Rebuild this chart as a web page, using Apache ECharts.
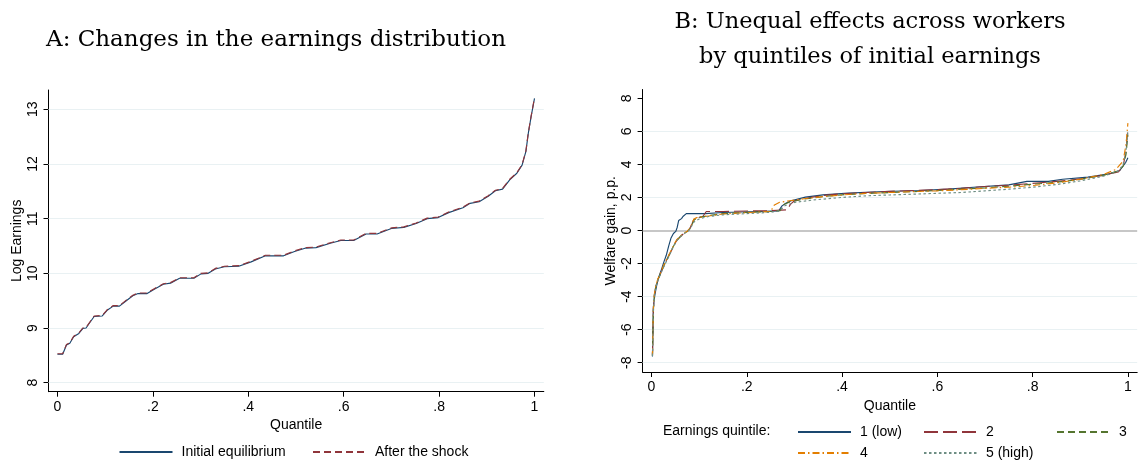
<!DOCTYPE html>
<html>
<head>
<meta charset="utf-8">
<script src="https://cdn.jsdelivr.net/npm/echarts@6/dist/echarts.min.js"></script>
<style>
  html, body { margin: 0; padding: 0; background: #fff; }
  #chart { width: 1138px; height: 462px; }
</style>
</head>
<body>
<div id="chart"></div>
<script>
// ---- Panel A: quantiles of log earnings, before and after the shock ----
const quantileA = [0, 0.011, 0.019, 0.026, 0.034, 0.045, 0.053, 0.060, 0.068, 0.077,
  0.094, 0.105, 0.117, 0.130, 0.143, 0.158, 0.169, 0.188, 0.203, 0.222,
  0.237, 0.256, 0.286, 0.301, 0.316, 0.331, 0.350, 0.380, 0.406, 0.436,
  0.474, 0.497, 0.519, 0.542, 0.572, 0.594, 0.621, 0.647, 0.670, 0.700,
  0.726, 0.752, 0.775, 0.798, 0.820, 0.850, 0.865, 0.884, 0.903, 0.918,
  0.933, 0.948, 0.963, 0.974, 0.982, 0.987, 0.993, 1.000];
const logEarnInitial = [8.52, 8.52, 8.69, 8.72, 8.84, 8.90, 8.99, 9.00, 9.10, 9.21,
  9.22, 9.33, 9.40, 9.40, 9.49, 9.59, 9.63, 9.63, 9.71, 9.80,
  9.82, 9.91, 9.91, 9.99, 10.00, 10.08, 10.12, 10.13, 10.21, 10.32,
  10.32, 10.40, 10.46, 10.47, 10.55, 10.60, 10.60, 10.72, 10.72, 10.82,
  10.84, 10.91, 11.00, 11.02, 11.11, 11.20, 11.28, 11.31, 11.41, 11.51,
  11.54, 11.71, 11.83, 11.98, 12.23, 12.56, 12.87, 13.20];
const logEarnShock = [8.53, 8.53, 8.70, 8.73, 8.85, 8.91, 9.00, 9.01, 9.11, 9.22,
  9.23, 9.34, 9.41, 9.41, 9.50, 9.60, 9.64, 9.64, 9.72, 9.81,
  9.83, 9.92, 9.92, 10.00, 10.01, 10.09, 10.13, 10.14, 10.22, 10.33,
  10.33, 10.41, 10.47, 10.48, 10.56, 10.61, 10.61, 10.73, 10.73, 10.83,
  10.85, 10.92, 11.01, 11.03, 11.12, 11.21, 11.29, 11.32, 11.42, 11.52,
  11.55, 11.72, 11.84, 11.99, 12.24, 12.57, 12.88, 13.21];

// ---- Panel B: welfare gain (p.p.) by quantile, per initial-earnings quintile ----
const q1 = [0.002, 0.003, 0.004, 0.007, 0.011, 0.016, 0.021, 0.026, 0.031, 0.036,
  0.041, 0.046, 0.051, 0.054, 0.057, 0.063, 0.066, 0.073, 0.113, 0.150,
  0.225, 0.267, 0.274, 0.282, 0.293, 0.323, 0.360, 0.413, 0.488, 0.563,
  0.623, 0.676, 0.750, 0.788, 0.833, 0.863, 0.916, 0.961, 0.983, 0.995, 1.000];
const gain1 = [-7.63, -6.0, -4.6, -3.9, -3.3, -2.75, -2.35, -1.9, -1.5, -0.95,
  -0.45, -0.18, -0.05, 0.2, 0.6, 0.72, 0.85, 1.02, 1.02, 1.09,
  1.15, 1.19, 1.49, 1.65, 1.8, 2.02, 2.16, 2.26, 2.36, 2.42,
  2.5, 2.62, 2.76, 2.97, 2.97, 3.1, 3.23, 3.43, 3.63, 4.1, 4.4];

const q2 = [0.002, 0.003, 0.004, 0.006, 0.009, 0.013, 0.019, 0.024, 0.029, 0.036,
  0.043, 0.048, 0.053, 0.060, 0.067, 0.075, 0.080, 0.085, 0.089, 0.093,
  0.108, 0.115, 0.150, 0.200, 0.250, 0.285, 0.292, 0.300, 0.330, 0.360,
  0.400, 0.450, 0.500, 0.550, 0.600, 0.650, 0.700, 0.750, 0.800, 0.850,
  0.900, 0.950, 0.980, 0.990, 0.996, 1.000];
const gain2 = [-7.5, -6.0, -4.7, -3.9, -3.4, -3.0, -2.6, -2.25, -1.95, -1.55,
  -1.15, -0.85, -0.6, -0.38, -0.2, -0.05, 0.1, 0.4, 0.7, 0.82,
  0.86, 1.15, 1.15, 1.18, 1.2, 1.25, 1.6, 1.8, 1.98, 2.12,
  2.22, 2.3, 2.37, 2.42, 2.47, 2.55, 2.66, 2.74, 2.85, 2.97,
  3.12, 3.35, 3.55, 3.9, 4.8, 6.2];

const q3 = [0.002, 0.003, 0.004, 0.006, 0.009, 0.013, 0.019, 0.024, 0.029, 0.036,
  0.043, 0.048, 0.053, 0.060, 0.067, 0.075, 0.080, 0.085, 0.089, 0.095,
  0.120, 0.150, 0.200, 0.250, 0.270, 0.276, 0.290, 0.320, 0.360, 0.400,
  0.450, 0.500, 0.550, 0.600, 0.650, 0.700, 0.750, 0.800, 0.850, 0.900,
  0.950, 0.980, 0.990, 0.996, 1.000];
const gain3 = [-7.6, -6.1, -4.8, -3.95, -3.4, -3.0, -2.6, -2.28, -1.95, -1.55,
  -1.12, -0.85, -0.6, -0.38, -0.2, -0.06, 0.08, 0.35, 0.62, 0.76,
  0.9, 1.02, 1.1, 1.15, 1.2, 1.55, 1.72, 1.9, 2.05, 2.16,
  2.24, 2.3, 2.35, 2.42, 2.5, 2.58, 2.68, 2.8, 2.92, 3.1,
  3.35, 3.6, 3.9, 4.6, 5.8];

const q4 = [0.002, 0.003, 0.004, 0.006, 0.009, 0.013, 0.019, 0.024, 0.029, 0.036,
  0.043, 0.048, 0.053, 0.060, 0.067, 0.075, 0.080, 0.085, 0.089, 0.095,
  0.120, 0.150, 0.200, 0.250, 0.258, 0.268, 0.290, 0.320, 0.360, 0.400,
  0.450, 0.500, 0.550, 0.600, 0.650, 0.700, 0.750, 0.800, 0.850, 0.900,
  0.950, 0.975, 0.990, 0.996, 1.000];
const gain4 = [-7.55, -6.0, -4.7, -3.85, -3.35, -2.95, -2.55, -2.2, -1.9, -1.5,
  -1.1, -0.8, -0.55, -0.35, -0.18, -0.04, 0.12, 0.42, 0.7, 0.78,
  0.88, 1.0, 1.08, 1.15, 1.55, 1.7, 1.8, 1.92, 2.05, 2.15,
  2.25, 2.3, 2.35, 2.4, 2.47, 2.55, 2.62, 2.72, 2.88, 3.1,
  3.4, 3.7, 4.2, 5.2, 6.5];

const q5 = [0.002, 0.003, 0.004, 0.006, 0.009, 0.013, 0.019, 0.024, 0.029, 0.036,
  0.043, 0.048, 0.053, 0.060, 0.067, 0.075, 0.080, 0.085, 0.090, 0.100,
  0.120, 0.150, 0.200, 0.250, 0.270, 0.280, 0.300, 0.340, 0.400, 0.450,
  0.500, 0.550, 0.600, 0.650, 0.700, 0.750, 0.800, 0.850, 0.900, 0.950,
  0.980, 0.990, 0.996, 1.000];
const gain5 = [-7.6, -6.2, -4.9, -4.0, -3.45, -3.05, -2.65, -2.3, -2.0, -1.6,
  -1.15, -0.88, -0.62, -0.4, -0.22, -0.08, 0.05, 0.3, 0.55, 0.7,
  0.85, 0.95, 1.02, 1.1, 1.2, 1.5, 1.7, 1.85, 2.0, 2.1,
  2.15, 2.2, 2.25, 2.3, 2.4, 2.5, 2.62, 2.78, 3.0, 3.3,
  3.6, 4.0, 4.8, 6.0];

// ---- tick labels ----
const quantileTicks = [0, 0.2, 0.4, 0.6, 0.8, 1];
const earningsTicks = [8, 9, 10, 11, 12, 13];
const gainTicks = [-8, -6, -4, -2, 0, 2, 4, 6, 8];
const gainGridTicks = [-8, -6, -4, -2, 2, 4, 6];

const SANS = '"Liberation Sans", Arial, sans-serif';
const SERIF = '"DejaVu Serif", serif';
const GRID_COLOR = '#e9f1f3';
const COLORS = {
  navy: '#1a476f', maroon: '#90353b', forest: '#55752f', orange: '#e37e00', teal: '#6e8e84'
};

const pairs = (xs, ys) => xs.map((x, i) => [x, ys[i]]);
const fmtQuantile = v => (v === 0 ? '0' : v === 1 ? '1' : String(+v.toFixed(1)).replace(/^0/, ''));

function xAxisFor(gridIndex) {
  return {
    type: 'value', gridIndex, min: -0.0187, max: 1.0195,
    name: 'Quantile', nameLocation: 'middle', nameGap: 22,
    nameTextStyle: { fontFamily: SANS, fontSize: 14, color: '#000' },
    axisLine: { show: true, onZero: false, lineStyle: { color: '#000', width: 1 } },
    axisTick: { show: true, length: 5, customValues: quantileTicks, lineStyle: { color: '#000', width: 1 } },
    axisLabel: { customValues: quantileTicks, formatter: fmtQuantile, margin: 8,
      fontFamily: SANS, fontSize: 14, color: '#000' },
    splitLine: { show: false }
  };
}

function yAxisFor(gridIndex, min, max, ticks, title) {
  return {
    type: 'value', gridIndex, min, max,
    name: title, nameLocation: 'middle', nameGap: 24,
    nameTextStyle: { fontFamily: SANS, fontSize: 14, color: '#000' },
    axisLine: { show: true, onZero: false, lineStyle: { color: '#000', width: 1 } },
    axisTick: { show: true, length: 5, customValues: ticks, lineStyle: { color: '#000', width: 1 } },
    axisLabel: { customValues: ticks, rotate: 90, margin: 8,
      fontFamily: SANS, fontSize: 14, color: '#000' },
    splitLine: { show: false }
  };
}

// horizontal grid lines drawn as a marker layer beneath the curves
function gridLines(values, extra) {
  return {
    silent: true, symbol: ['none', 'none'], z: 1, animation: false,
    label: { show: false },
    lineStyle: { color: GRID_COLOR, width: 1, type: 'solid' },
    emphasis: { disabled: true },
    data: values.map(v => ({ yAxis: v })).concat(extra || [])
  };
}

function lineSeries(name, xIdx, data, color, dash, extra) {
  return Object.assign({
    name, type: 'line', xAxisIndex: xIdx, yAxisIndex: xIdx, data,
    showSymbol: false, symbol: 'none', z: 3, animation: false,
    lineStyle: { color, width: 1.15, type: dash || 'solid' },
    itemStyle: { color },
    emphasis: { disabled: true }
  }, extra || {});
}

function legendAt(name, left, top) {
  return {
    data: [name], left, top, padding: 0, itemGap: 0,
    itemWidth: 53, itemHeight: 14, selectedMode: false,
    itemStyle: { opacity: 0, color: 'rgba(0,0,0,0)', borderWidth: 0 },
    textStyle: { fontFamily: SANS, fontSize: 14, color: '#000', padding: [0, 0, 0, 4] }
  };
}

const chart = echarts.init(document.getElementById('chart'), null, { renderer: 'canvas' });

chart.setOption({
  backgroundColor: '#fff',
  animation: false,
  title: [
    { text: 'A: Changes in the earnings distribution', left: 276, top: 28.5, textAlign: 'center', padding: 0,
      textStyle: { fontFamily: SERIF, fontSize: 23, fontWeight: 'normal', color: '#000' } },
    { text: 'B: Unequal effects across workers\nby quintiles of initial earnings', left: 870, top: 5,
      textAlign: 'center', padding: 0,
      textStyle: { fontFamily: SERIF, fontSize: 22.5, fontWeight: 'normal', color: '#000', lineHeight: 35 } },
    { text: 'Earnings quintile:', left: 663, top: 424, padding: 0,
      textStyle: { fontFamily: SANS, fontSize: 14, fontWeight: 'normal', color: '#000' } }
  ],
  grid: [
    { left: 48.5, top: 90, width: 495.3, height: 301.7, outerBoundsMode: 'none', containLabel: false },
    { left: 642.6, top: 89.5, width: 494.6, height: 282.5, outerBoundsMode: 'none', containLabel: false }
  ],
  xAxis: [xAxisFor(0), xAxisFor(1)],
  yAxis: [
    yAxisFor(0, 7.835, 13.353, earningsTicks, 'Log Earnings'),
    yAxisFor(1, -8.563, 8.533, gainTicks, 'Welfare gain, p.p.')
  ],
  legend: [
    legendAt('Initial equilibrium', 118.5, 445),
    legendAt('After the shock', 312, 445),
    legendAt('1 (low)', 797, 425),
    legendAt('2', 923, 425),
    legendAt('3', 1056, 425),
    legendAt('4', 797, 446),
    legendAt('5 (high)', 923, 446)
  ],
  series: [
    lineSeries('Initial equilibrium', 0, pairs(quantileA, logEarnInitial), COLORS.navy, 'solid',
      { markLine: gridLines(earningsTicks) }),
    lineSeries('After the shock', 0, pairs(quantileA, logEarnShock), COLORS.maroon, [7, 4]),
    lineSeries('1 (low)', 1, pairs(q1, gain1), COLORS.navy, 'solid', {
      markLine: gridLines(gainGridTicks, [{ yAxis: 0, lineStyle: { color: '#b4b4b4', width: 1.6 } }])
    }),
    lineSeries('2', 1, pairs(q2, gain2), COLORS.maroon, [14, 5]),
    lineSeries('3', 1, pairs(q3, gain3), COLORS.forest, [7, 4]),
    lineSeries('4', 1, pairs(q4, gain4), COLORS.orange, [7, 3, 1.5, 3]),
    lineSeries('5 (high)', 1, pairs(q5, gain5), COLORS.teal, [2.5, 2.5])
  ]
});
</script>
</body>
</html>
